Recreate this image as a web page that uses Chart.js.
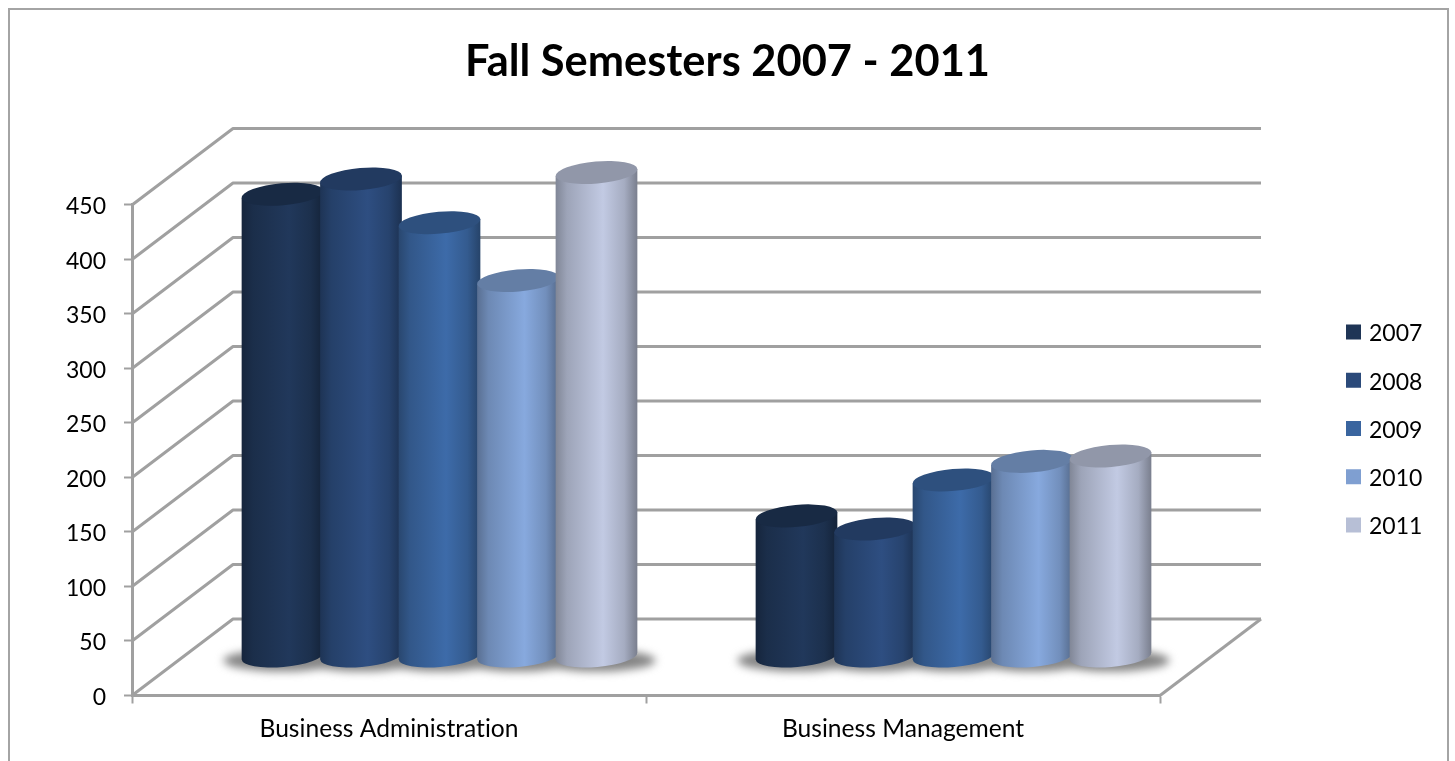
<!DOCTYPE html>
<html>
<head>
<meta charset="utf-8">
<style>html,body{margin:0;padding:0;background:#fff}canvas{display:block}</style>
<script src="https://cdn.jsdelivr.net/npm/chart.js@4"></script>
</head>
<body>
<canvas id="c" width="1455" height="761"></canvas>
<script>
const categories = ['Business Administration', 'Business Management'];
const years = ['2007', '2008', '2009', '2010', '2011'];
const values2007 = [424, 129];
const values2008 = [438, 117];
const values2009 = [398, 162];
const values2010 = [345, 179];
const values2011 = [444, 184];
const seriesValues = [values2007, values2008, values2009, values2010, values2011];
const colors = ['#1F3556', '#2B4A7A', '#3A659F', '#7F9FD1', '#B7BFD6'];
const yTickStep = 50, yMax = 450;

const DEPTH_X = 101, DEPTH_Y = -76.5, BAR_DX = 50.5, BAR_DY = -39;
const LINE = '#a0a0a0';
const TILT = -5 * Math.PI / 180;
const FONT = 'Lato';
const TEXT_DROP = 2;

function shade(hex, f) {
  const n = parseInt(hex.slice(1), 16);
  const c = [n >> 16, (n >> 8) & 255, n & 255].map(v => Math.max(0, Math.min(255, Math.round(v * f))));
  return `rgb(${c[0]},${c[1]},${c[2]})`;
}

function drawCylinder(ctx, el, color) {
  const { x, y, base, width } = el.getProps(['x', 'y', 'base', 'width'], true);
  const cx = x + BAR_DX, top = y + BAR_DY, bot = base + BAR_DY;
  const rx = width / 2, ry = 11;
  const ox = rx * Math.cos(TILT), oy = rx * Math.sin(TILT);
  const g = ctx.createLinearGradient(cx - rx, 0, cx + rx, 0);
  g.addColorStop(0, shade(color, 0.7));
  g.addColorStop(0.14, shade(color, 0.86));
  g.addColorStop(0.58, shade(color, 1.06));
  g.addColorStop(0.84, shade(color, 0.9));
  g.addColorStop(1, shade(color, 0.66));
  ctx.beginPath();
  ctx.moveTo(cx - ox, top - oy);
  ctx.lineTo(cx - ox, bot - oy);
  ctx.ellipse(cx, bot, rx, ry, TILT, Math.PI, 0, true);
  ctx.lineTo(cx + ox, top + oy);
  ctx.closePath();
  ctx.fillStyle = g;
  ctx.fill();
  ctx.beginPath();
  ctx.ellipse(cx, top, rx, ry, TILT, 0, Math.PI * 2);
  ctx.fillStyle = shade(color, 0.79);
  ctx.fill();
}

const scene = {
  id: 'scene',
  start(chart) {
    // Lato sits a little high in its em box compared with the reference face
    const c = chart.ctx, fill = c.fillText;
    c.fillText = function (t, x, y, ...rest) { return fill.call(this, t, x, y + TEXT_DROP, ...rest); };
    c.letterSpacing = '0.01px';
  },
  beforeDraw(chart) {
    const c = chart.ctx;
    c.letterSpacing = '0.01px';
    c.save();
    c.fillStyle = '#fff';
    c.fillRect(0, 0, chart.width, chart.height);
    c.strokeStyle = '#a4a4a4';
    c.lineWidth = 2;
    c.beginPath();
    c.moveTo(9, chart.height + 2);
    c.lineTo(9, 9);
    c.lineTo(1448, 9);
    c.lineTo(1448, chart.height + 2);
    c.stroke();
    c.restore();
  },
  afterLayout(chart) {
    const l = chart.legend;
    l.left = 1324.25; l.right = 1450; l.top = 295.25; l.bottom = 760;
    const t = chart.titleBlock;
    t.left = 0; t.right = chart.width; t.width = chart.width;
  },
  beforeDatasetsDraw(chart) {
    const c = chart.ctx, xs = chart.scales.x, ys = chart.scales.y;
    const x0 = xs.left, x1 = xs.right;
    c.save();
    c.strokeStyle = LINE;
    c.lineWidth = 3;
    c.lineJoin = 'round';
    ys.ticks.forEach(t => {
      const y = ys.getPixelForValue(t.value);
      c.beginPath();
      c.moveTo(x0, y);
      c.lineTo(x0 + DEPTH_X, y + DEPTH_Y);
      c.lineTo(x1 + DEPTH_X, y + DEPTH_Y);
      c.stroke();
    });
    const y0 = ys.getPixelForValue(0);
    c.beginPath();
    c.moveTo(x1, y0);
    c.lineTo(x1 + DEPTH_X, y0 + DEPTH_Y);
    c.stroke();
    // soft floor shadow under the cylinders
    const bot = y0 + BAR_DY;
    c.save();
    c.filter = 'blur(4px)';
    c.fillStyle = '#858585';
    c.beginPath();
    chart.data.datasets.forEach((ds, d) => {
      chart.getDatasetMeta(d).data.forEach(el => {
        const cx = el.x + BAR_DX, rx = el.width / 2 + 18;
        c.moveTo(cx + rx, bot + 4);
        c.ellipse(cx, bot + 4, rx, 11, 0, 0, Math.PI * 2);
      });
    });
    c.fill('nonzero');
    c.restore();
    // cylinders: later series overlap earlier ones
    chart.data.datasets.forEach((ds, d) => {
      chart.getDatasetMeta(d).data.forEach(el => drawCylinder(c, el, ds.backgroundColor));
    });
    c.restore();
    return false;
  }
};

new Chart(document.getElementById('c'), {
  type: 'bar',
  plugins: [scene],
  data: {
    labels: categories,
    datasets: years.map((y, i) => ({
      label: y,
      data: seriesValues[i],
      backgroundColor: colors[i],
      borderColor: colors[i],
      borderWidth: 7,
      categoryPercentage: 0.7636,
      barPercentage: 1.045,
      clip: false
    }))
  },
  options: {
    responsive: false,
    animation: false,
    events: [],
    layout: { autoPadding: false, padding: { left: 0, right: 295, top: 0, bottom: 0 } },
    plugins: {
      tooltip: { enabled: false },
      title: {
        display: true,
        text: 'Fall Semesters 2007 - 2011',
        color: '#000',
        font: { family: FONT, size: 43.4, weight: 'bold', lineHeight: 1.2 },
        padding: { top: 34, bottom: 118.9 }
      },
      legend: {
        position: 'chartArea',
        align: 'start',
        labels: {
          color: '#000',
          boxWidth: 8,
          boxHeight: 8,
          padding: 25.25,
          font: { family: FONT, size: 23 }
        }
      }
    },
    scales: {
      x: {
        afterFit(s) { s.height = 65.5; },
        border: { color: LINE, width: 3 },
        grid: { drawOnChartArea: false, drawTicks: true, tickLength: 8, color: LINE, tickColor: LINE, tickWidth: 2 },
        ticks: { color: '#000', padding: 8.7, maxRotation: 0, autoSkip: false, font: { family: FONT, size: 24.6 } }
      },
      y: {
        min: 0,
        max: yMax,
        afterFit(s) { s.width = 132; },
        border: { color: LINE, width: 3 },
        grid: { drawOnChartArea: false, drawTicks: true, tickLength: 8, color: LINE, tickColor: LINE, tickWidth: 2 },
        ticks: { stepSize: yTickStep, color: '#000', padding: 18, font: { family: FONT, size: 23 } }
      }
    }
  }
});
</script>
</body>
</html>
